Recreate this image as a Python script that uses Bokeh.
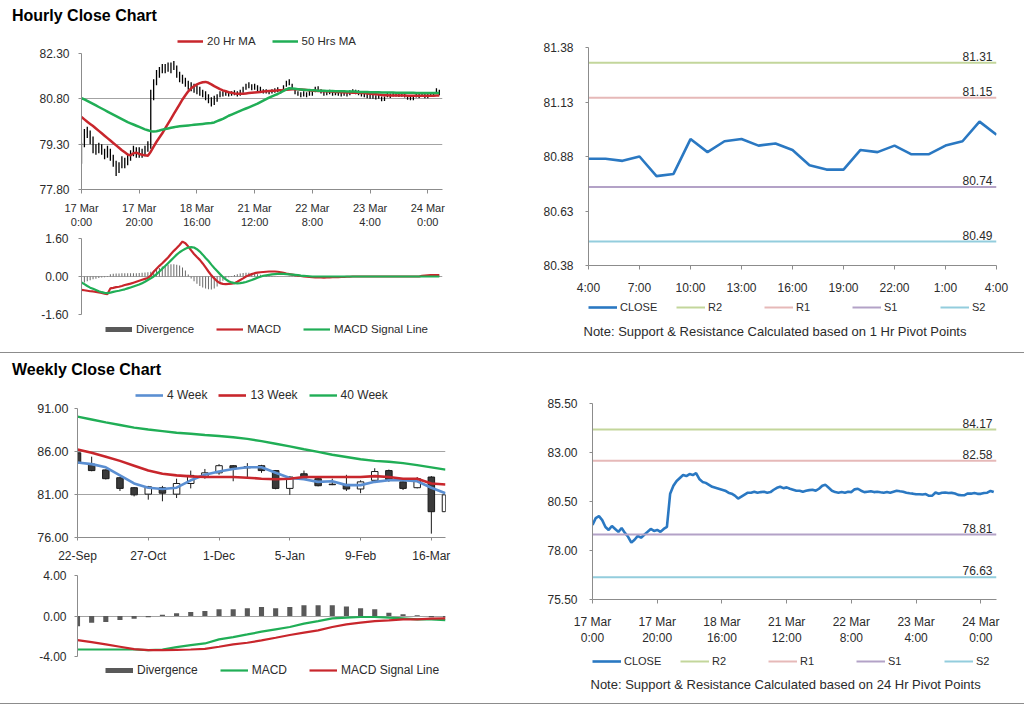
from bokeh.plotting import figure
from bokeh.models import Range1d, FixedTicker, NumeralTickFormatter, Legend, LegendItem, Title, Div
from bokeh.layouts import column, row
from bokeh.embed import file_html
from bokeh.resources import INLINE
from bokeh.core.properties import value

# ---------------- data ----------------
hourly_ticks = [0, 20, 40, 60, 80, 100, 120]
hourly_tick_labels = ["17 Mar\n0:00", "17 Mar\n20:00", "18 Mar\n16:00", "21 Mar\n12:00",
                      "22 Mar\n8:00", "23 Mar\n4:00", "24 Mar\n0:00"]

hourly_close = [79.30, 79.65, 79.75, 79.55, 79.20, 79.05, 79.25, 79.10, 78.95, 79.15,
                78.90, 78.70, 78.40, 78.55, 78.75, 78.65, 78.80, 78.95, 79.10, 79.00,
                79.05, 78.95, 79.10, 79.20, 80.90, 81.30, 81.55, 81.70, 81.85, 81.80,
                81.90, 81.85, 81.95, 81.65, 81.50, 81.45, 81.35, 81.25, 81.20, 81.15,
                81.10, 81.05, 80.95, 80.90, 80.80, 80.65, 80.75, 80.85, 80.95, 80.95,
                81.00, 80.95, 80.98, 81.00, 80.95, 80.98, 81.10, 81.20, 81.25, 81.18,
                81.22, 81.15, 81.10, 81.05, 81.05, 81.00, 81.05, 81.08, 81.10, 81.05,
                81.15, 81.30, 81.35, 81.20, 81.05, 80.98, 80.95, 80.98, 80.95, 81.00,
                80.98, 81.12, 81.15, 81.05, 80.98, 81.00, 81.02, 80.98, 81.00, 80.97,
                80.95, 80.98, 80.95, 81.00, 81.05, 81.02, 81.00, 80.95, 80.92, 80.90,
                80.87, 80.87, 80.86, 80.88, 80.79, 80.80, 80.96, 80.90, 80.95, 80.96,
                80.93, 80.94, 80.91, 80.84, 80.82, 80.82, 80.91, 80.90, 80.93, 80.89,
                80.89, 80.93, 80.95, 81.04, 80.98]

hourly_low = [78.65, 79.20, 79.50, 79.30, 79.00, 78.95, 79.00, 78.95, 78.80, 78.85,
              78.75, 78.55, 78.25, 78.35, 78.50, 78.50, 78.60, 78.75, 78.90, 78.85,
              78.85, 78.85, 78.90, 79.05, 79.15, 80.75, 81.25, 81.50, 81.65, 81.65,
              81.70, 81.65, 81.75, 81.50, 81.35, 81.30, 81.20, 81.10, 81.05, 81.00,
              80.95, 80.90, 80.85, 80.75, 80.65, 80.55, 80.60, 80.70, 80.85, 80.88,
              80.90, 80.88, 80.90, 80.92, 80.88, 80.90, 81.00, 81.10, 81.15, 81.08,
              81.10, 81.05, 81.00, 80.98, 80.98, 80.95, 80.98, 81.00, 81.02, 80.98,
              81.05, 81.20, 81.25, 81.10, 80.95, 80.90, 80.85, 80.88, 80.85, 80.90,
              80.90, 81.02, 81.05, 80.98, 80.90, 80.92, 80.95, 80.90, 80.92, 80.90,
              80.88, 80.90, 80.88, 80.92, 80.98, 80.95, 80.92, 80.88, 80.85, 80.82,
              80.80, 80.80, 80.78, 80.80, 80.72, 80.73, 80.85, 80.83, 80.88, 80.88,
              80.86, 80.87, 80.84, 80.77, 80.75, 80.75, 80.84, 80.83, 80.86, 80.82,
              80.82, 80.86, 80.88, 80.96, 80.92]

hourly_high = [79.35, 79.80, 79.88, 79.75, 79.55, 79.30, 79.35, 79.30, 79.15, 79.25,
               79.15, 78.95, 78.75, 78.70, 78.90, 78.85, 78.95, 79.10, 79.25, 79.20,
               79.20, 79.15, 79.25, 79.40, 81.10, 81.45, 81.75, 81.85, 81.95, 81.95,
               82.00, 82.00, 82.05, 81.90, 81.70, 81.60, 81.50, 81.40, 81.35, 81.30,
               81.25, 81.20, 81.10, 81.05, 80.95, 80.85, 80.90, 80.95, 81.05, 81.05,
               81.08, 81.05, 81.05, 81.08, 81.05, 81.10, 81.20, 81.30, 81.35, 81.28,
               81.30, 81.25, 81.20, 81.12, 81.12, 81.08, 81.12, 81.15, 81.18, 81.12,
               81.25, 81.40, 81.45, 81.30, 81.15, 81.05, 81.02, 81.05, 81.02, 81.08,
               81.05, 81.20, 81.22, 81.12, 81.05, 81.08, 81.10, 81.05, 81.08, 81.04,
               81.02, 81.05, 81.02, 81.08, 81.12, 81.10, 81.08, 81.02, 81.00, 80.98,
               80.95, 80.95, 80.92, 80.95, 80.88, 80.88, 81.02, 80.98, 81.02, 81.03,
               81.00, 81.01, 80.98, 80.92, 80.88, 80.89, 80.98, 80.97, 81.00, 80.96,
               80.96, 81.00, 81.03, 81.15, 81.10]

ma_20hr = [80.20, 80.12, 80.04, 79.97, 79.90, 79.82, 79.74, 79.66, 79.58, 79.50,
           79.42, 79.34, 79.26, 79.18, 79.10, 79.03, 78.96, 78.93, 79.00, 79.02,
           78.98, 78.95, 78.93, 78.92, 79.05, 79.22, 79.38, 79.52, 79.66, 79.82,
           79.98, 80.14, 80.30, 80.46, 80.62, 80.78, 80.92, 81.05, 81.15, 81.22,
           81.28, 81.32, 81.35, 81.36, 81.33, 81.28, 81.22, 81.17, 81.12, 81.08,
           81.05, 81.02, 81.00, 80.98, 80.97, 80.97, 80.97, 80.98, 80.99, 81.00,
           81.01, 81.02, 81.03, 81.04, 81.05, 81.06, 81.07, 81.07, 81.08, 81.08,
           81.09, 81.10, 81.11, 81.12, 81.12, 81.12, 81.11, 81.10, 81.09, 81.08,
           81.07, 81.07, 81.06, 81.06, 81.05, 81.05, 81.04, 81.04, 81.03, 81.03,
           81.02, 81.02, 81.01, 81.01, 81.00, 81.00, 81.00, 80.99, 80.99, 80.98,
           80.97, 80.96, 80.95, 80.94, 80.93, 80.92, 80.92, 80.91, 80.91, 80.91,
           80.91, 80.91, 80.91, 80.90, 80.90, 80.90, 80.90, 80.90, 80.90, 80.90,
           80.90, 80.90, 80.90, 80.91, 80.91]

ma_50hr = [80.82, 80.78, 80.73, 80.68, 80.63, 80.58, 80.53, 80.48, 80.43, 80.38,
           80.33, 80.28, 80.23, 80.18, 80.13, 80.08, 80.03, 79.99, 79.95, 79.91,
           79.87, 79.83, 79.79, 79.76, 79.73, 79.72, 79.73, 79.75, 79.78, 79.80,
           79.82, 79.84, 79.86, 79.88, 79.89, 79.90, 79.91, 79.92, 79.93, 79.94,
           79.95, 79.96, 79.97, 79.98, 79.99, 80.00, 80.02, 80.06, 80.10, 80.14,
           80.19, 80.24, 80.28, 80.32, 80.36, 80.40, 80.44, 80.48, 80.52, 80.56,
           80.60, 80.64, 80.69, 80.74, 80.79, 80.84, 80.88, 80.92, 80.96, 81.01,
           81.06, 81.11, 81.15, 81.14, 81.13, 81.12, 81.11, 81.10, 81.09, 81.09,
           81.08, 81.08, 81.07, 81.07, 81.07, 81.06, 81.06, 81.06, 81.05, 81.05,
           81.05, 81.05, 81.04, 81.04, 81.04, 81.04, 81.03, 81.03, 81.03, 81.03,
           81.02, 81.02, 81.02, 81.02, 81.01, 81.01, 81.01, 81.01, 81.01, 81.00,
           81.00, 81.00, 81.00, 81.00, 81.00, 81.00, 80.99, 80.99, 80.99, 80.99,
           80.99, 80.99, 80.99, 80.99, 80.99]

hourly_macd = [-0.56, -0.58, -0.60, -0.62, -0.63, -0.65, -0.67, -0.69, -0.72, -0.74,
               -0.50, -0.48, -0.45, -0.43, -0.40, -0.36, -0.33, -0.30, -0.26, -0.22,
               -0.18, -0.14, -0.10, -0.06, 0.04, 0.20, 0.33, 0.45, 0.56, 0.68,
               0.80, 0.95, 1.08, 1.20, 1.33, 1.47, 1.40, 1.26, 1.10, 0.95,
               0.82, 0.70, 0.55, 0.38, 0.21, 0.05, -0.08, -0.20, -0.28, -0.31,
               -0.32, -0.31, -0.30, -0.28, -0.22, -0.15, -0.08, 0.00, 0.05, 0.10,
               0.14, 0.16, 0.18, 0.19, 0.20, 0.21, 0.21, 0.21, 0.20, 0.18,
               0.15, 0.12, 0.10, 0.08, 0.06, 0.04, 0.02, 0.00, -0.01, -0.02,
               -0.03, -0.04, -0.04, -0.04, -0.05, -0.04, -0.04, -0.03, -0.03, -0.03,
               -0.02, -0.02, -0.01, -0.01, 0.00, 0.00, 0.00, 0.00, 0.00, 0.00,
               0.00, 0.00, 0.00, 0.00, 0.00, 0.00, 0.00, 0.00, 0.00, 0.00,
               0.00, 0.00, 0.00, 0.00, 0.00, 0.00, 0.00, 0.00, 0.03, 0.04,
               0.05, 0.06, 0.06, 0.06, 0.06]

hourly_signal = [-0.25, -0.32, -0.40, -0.47, -0.52, -0.57, -0.62, -0.66, -0.69, -0.70,
                 -0.68, -0.65, -0.62, -0.60, -0.57, -0.54, -0.50, -0.46, -0.42, -0.38,
                 -0.34, -0.28, -0.22, -0.15, -0.08, 0.00, 0.10, 0.21, 0.33, 0.44,
                 0.56, 0.68, 0.80, 0.92, 1.02, 1.10, 1.17, 1.22, 1.24, 1.22,
                 1.15, 1.05, 0.92, 0.78, 0.65, 0.50, 0.36, 0.23, 0.10, -0.02,
                 -0.12, -0.20, -0.25, -0.28, -0.29, -0.28, -0.26, -0.23, -0.19, -0.15,
                 -0.10, -0.05, -0.01, 0.03, 0.05, 0.07, 0.09, 0.10, 0.11, 0.11,
                 0.11, 0.10, 0.09, 0.08, 0.07, 0.06, 0.04, 0.03, 0.02, 0.01,
                 0.00, 0.00, 0.00, 0.00, 0.00, 0.00, 0.00, 0.00, 0.00, 0.00,
                 0.00, 0.00, 0.00, 0.00, 0.00, 0.00, 0.00, 0.00, 0.00, 0.00,
                 0.00, 0.00, 0.00, 0.00, 0.00, 0.00, 0.00, 0.00, 0.00, 0.00,
                 0.00, 0.00, 0.00, 0.00, 0.00, 0.00, 0.00, 0.00, 0.00, 0.00,
                 0.00, 0.00, 0.00, 0.00, 0.00]

hourly_divergence = [-0.30, -0.25, -0.20, -0.16, -0.12, -0.09, -0.06, -0.04, -0.03, -0.02,
                     0.10, 0.12, 0.13, 0.13, 0.14, 0.14, 0.14, 0.14, 0.14, 0.14,
                     0.15, 0.16, 0.17, 0.18, 0.20, 0.24, 0.30, 0.36, 0.42, 0.46,
                     0.50, 0.52, 0.52, 0.50, 0.46, 0.38, 0.25, 0.08, -0.08, -0.20,
                     -0.30, -0.40, -0.46, -0.50, -0.54, -0.55, -0.50, -0.42, -0.30, -0.18,
                     -0.08, -0.03, 0.02, 0.06, 0.10, 0.13, 0.15, 0.16, 0.16, 0.15,
                     0.13, 0.10, 0.07, 0.05, 0.03, 0.02, 0.02, 0.01, 0.01, 0.00,
                     0.00, 0.00, -0.01, -0.01, -0.02, -0.02, -0.02, -0.02, -0.02, -0.02,
                     -0.02, -0.02, -0.02, -0.01, -0.01, -0.01, -0.01, 0.00, 0.00, 0.00,
                     0.00, 0.00, 0.00, 0.00, 0.00, 0.00, 0.00, 0.00, 0.00, 0.00,
                     0.00, 0.00, 0.00, 0.00, 0.00, 0.00, 0.00, 0.00, 0.00, 0.00,
                     0.00, 0.00, 0.00, 0.00, 0.00, 0.00, 0.00, 0.00, 0.00, 0.00,
                     0.01, 0.02, 0.02, 0.02, 0.02]

# 1 Hr pivot window: last 25 hours (23 Mar 4:00 -> 24 Mar 4:00)
pivot_window_start = 100
hr_ticks = [0, 3, 6, 9, 12, 15, 18, 21, 24]
hr_tick_labels = ["4:00", "7:00", "10:00", "13:00", "16:00", "19:00", "22:00", "1:00", "4:00"]
level_names = ["R2", "R1", "S1", "S2"]
levels_1hr = [81.31, 81.15, 80.74, 80.49]
levels_24hr = [84.17, 82.58, 78.81, 76.63]

weekly_ticks = [0, 5, 10, 15, 20, 25]
weekly_tick_labels = ["22-Sep", "27-Oct", "1-Dec", "5-Jan", "9-Feb", "16-Mar"]
weekly_open = [85.85, 84.53, 83.86, 82.95, 81.79, 81.04, 81.79, 81.04, 82.28, 83.03,
               83.52, 84.35, 84.10, 84.35, 83.78, 81.71, 83.41, 82.84, 82.20, 82.17,
               81.64, 82.65, 83.78, 82.47, 81.79, 83.03, 79.00]
weekly_close = [84.65, 83.78, 82.84, 81.71, 80.96, 81.90, 81.15, 82.28, 83.22, 83.52,
                84.35, 84.05, 84.25, 83.78, 81.71, 83.03, 82.92, 82.02, 82.14, 81.64,
                82.47, 83.67, 82.73, 81.71, 82.84, 79.00, 80.96]
weekly_high = [86.04, 85.40, 83.90, 83.00, 81.85, 82.00, 82.00, 82.84, 83.78, 83.97,
               84.53, 84.42, 84.65, 84.45, 83.85, 83.14, 83.78, 83.03, 82.84, 83.29,
               82.65, 84.05, 83.90, 82.55, 83.03, 83.14, 80.96]
weekly_low = [84.55, 83.70, 82.75, 81.41, 80.78, 80.40, 80.21, 80.59, 81.71, 82.84,
              83.30, 82.54, 83.03, 83.52, 81.60, 80.96, 82.80, 81.95, 82.09, 81.41,
              81.15, 82.54, 82.47, 81.52, 81.71, 76.45, 79.00]
ma_4wk = [84.72, 84.53, 84.16, 83.22, 82.28, 81.79, 81.64, 81.79, 82.65, 83.29,
          83.67, 83.97, 84.16, 84.16, 83.52, 82.92, 82.77, 82.47, 82.54, 82.09,
          82.09, 82.47, 82.65, 82.65, 82.54, 81.79, 81.15]
ma_13wk = [86.23, 85.85, 85.40, 84.91, 84.35, 83.78, 83.41, 83.22, 83.11, 83.03,
           83.03, 83.03, 82.95, 82.84, 82.77, 82.84, 83.03, 83.03, 83.03, 83.03,
           83.03, 83.14, 83.03, 82.84, 82.84, 82.28, 82.17]
ma_40wk = [90.06, 89.72, 89.38, 89.08, 88.78, 88.56, 88.37, 88.18, 88.07, 87.92,
           87.80, 87.65, 87.47, 87.20, 86.90, 86.60, 86.26, 85.96, 85.62, 85.36,
           85.10, 84.91, 84.80, 84.65, 84.42, 84.16, 83.89]
weekly_divergence = [-1.00, -0.66, -0.60, -0.40, -0.26, -0.12, 0.12, 0.26, 0.40, 0.50,
                     0.66, 0.66, 0.76, 0.89, 0.76, 0.89, 1.06, 1.06, 1.06, 0.93,
                     0.76, 0.66, 0.33, 0.17, 0.07, -0.12, -0.15]
weekly_macd = [-3.31, -3.31, -3.31, -3.31, -3.31, -3.37, -3.31, -3.07, -2.88, -2.71,
               -2.31, -2.08, -1.82, -1.55, -1.32, -1.09, -0.76, -0.50, -0.23, -0.17,
               -0.10, -0.10, -0.17, -0.23, -0.33, -0.33, -0.40]
weekly_signal = [-2.38, -2.58, -2.81, -3.04, -3.27, -3.37, -3.37, -3.34, -3.31, -3.24,
                 -3.04, -2.81, -2.64, -2.41, -2.15, -1.88, -1.65, -1.42, -1.09, -0.83,
                 -0.66, -0.50, -0.43, -0.33, -0.33, -0.26, -0.23]

for arr in (hourly_close, hourly_low, hourly_high, ma_20hr, ma_50hr, hourly_macd,
            hourly_signal, hourly_divergence):
    assert len(arr) == 125, len(arr)

# ---------------- style ----------------
FONT = "Liberation Sans"
TXT = "#2b2b2b"
AX = "#8c8c8c"
GRID = "#a3a3a3"
RED = "#c8262c"
GREEN = "#20ae56"
BLUE_MA = "#5b8fd2"
CLOSE_C = "#2a78c2"
LEVEL_COLORS = ["#c3d69b", "#e6b9b8", "#b3a2c7", "#93cddd"]
DIV_H = "#6a6a6a"
DIV_W = "#595959"

hx = list(range(len(hourly_close)))
wx = list(range(len(weekly_close)))
px = list(range(len(hourly_close) - pivot_window_start))


def make_fig(w, h, bl, br, bt, bb, xr, yr, xaxis=True, yaxis=True):
    p = figure(width=w, height=h, x_range=xr, y_range=yr, output_backend="svg",
               toolbar_location=None, tools="", title=None,
               min_border_left=bl, min_border_right=br, min_border_top=bt, min_border_bottom=bb,
               x_axis_location="below" if xaxis else None,
               y_axis_location="left" if yaxis else None)
    p.outline_line_color = None
    p.xgrid.visible = False
    p.background_fill_color = "white"
    p.border_fill_color = "white"
    return p


def style_axis(ax, size, standoff, tick_out=4):
    ax.axis_line_color = AX
    ax.major_tick_line_color = AX
    ax.minor_tick_line_color = None
    ax.major_tick_out = tick_out
    ax.major_tick_in = 0
    ax.major_label_text_font = FONT
    ax.major_label_text_font_size = size
    ax.major_label_text_color = TXT
    ax.major_label_standoff = standoff


def y_setup(p, ticks, size, standoff, grid=True):
    p.yaxis.ticker = FixedTicker(ticks=ticks)
    p.yaxis.formatter = NumeralTickFormatter(format="0.00")
    style_axis(p.yaxis, size, standoff, tick_out=3)
    if grid:
        p.ygrid.grid_line_color = GRID
        p.ygrid.grid_line_width = 1
    else:
        p.ygrid.visible = False


def x_setup(p, ticks, labels, size, standoff, tick_out=4):
    p.xaxis.ticker = FixedTicker(ticks=ticks)
    p.xaxis.major_label_overrides = {t: l for t, l in zip(ticks, labels)}
    style_axis(p.xaxis, size, standoff, tick_out)


def legend_fig(w, h, bl, br, entries, loc, size, glyph_w, spacing, standoff=4, label_width=None,
               note=None, note_border=0, note_offset=0):
    """A strip carrying only a legend (and optionally the pivot note).
    Its series are drawn outside the strip's ranges, so only the legend shows."""
    lf = make_fig(w, h, bl, br, 0, note_border, Range1d(-1000, -999), Range1d(-1000, -999),
                  xaxis=False, yaxis=False)
    lf.ygrid.visible = False
    items = []
    for label, color, width, xs, ys in entries:
        r = lf.line(xs, ys, line_color=color, line_width=width)
        items.append(LegendItem(label=label, renderers=[r]))
    lg = Legend(items=items, orientation="horizontal", location=loc,
                label_text_font=FONT, label_text_font_size=size, label_text_color=TXT,
                glyph_width=glyph_w, glyph_height=12, label_height=12, label_standoff=standoff,
                spacing=spacing, padding=0, margin=0, border_line_color=None,
                background_fill_alpha=0)
    if label_width:
        lg.label_width = label_width
    lf.add_layout(lg, "center")
    if note:
        lf.add_layout(Title(text=note, align="left", text_font=FONT, text_font_size="13px",
                            text_font_style="normal", text_color=TXT, standoff=0,
                            offset=note_offset), "below")
    return lf


def pivot_chart(w, h, bl, br, bt, bb, xs, closes, xr, yr, yticks, levels, xticks, xlabels,
                x_standoff):
    p = make_fig(w, h, bl, br, bt, bb, xr, yr)
    y_setup(p, yticks, "12px", 12, grid=False)
    x_setup(p, xticks, xlabels, "12px", x_standoff)
    p.line(xs, closes, line_color=CLOSE_C, line_width=2.6)
    for lvl, c in zip(levels, LEVEL_COLORS):
        p.line([xr.start, xr.end], [lvl, lvl], line_color=c, line_width=2)
    p.text(x=[xr.end] * len(levels), y=levels, text=[f"{v:.2f}" for v in levels],
           text_align="right", text_baseline="bottom", x_offset=-4, y_offset=-2,
           text_font=value(FONT), text_font_size="12px", text_color=TXT)
    return p


def pivot_entries(xs, closes, levels):
    return [("CLOSE", CLOSE_C, 2.6, xs, closes)] + [
        (n, c, 2, [xs[0], xs[-1]], [lvl, lvl]) for n, c, lvl in zip(level_names, LEVEL_COLORS, levels)]


# ---------------- hourly price (top-left) ----------------
hp_leg = legend_fig(520, 18, 81, 78, [("20 Hr MA", RED, 2.5, hx, ma_20hr),
                                      ("50 Hrs MA", GREEN, 2.5, hx, ma_50hr)],
                    (96, 1), "11.5px", 26, 16)
hp = make_fig(520, 183, 81, 78, 5, 42, Range1d(0, 125.1), Range1d(77.8, 82.3))
y_setup(hp, [77.8, 79.3, 80.8, 82.3], "12px", 9)
x_setup(hp, hourly_ticks, hourly_tick_labels, "11px", 8)
hp.segment(x0=hx, y0=hourly_low, x1=hx, y1=hourly_high, line_color="black", line_width=1.3)
hp.line(hx, ma_20hr, line_color=RED, line_width=2.5)
hp.line(hx, ma_50hr, line_color=GREEN, line_width=2.5)

# ---------------- hourly MACD ----------------
hm = make_fig(520, 90, 81, 78, 7, 7, Range1d(0, 125.1), Range1d(-1.6, 1.6), xaxis=False)
y_setup(hm, [-1.6, 0.0, 1.6], "12px", 10)
hm.vbar(x=hx, top=hourly_divergence, bottom=0, width=0.35, fill_color=DIV_H, line_color=None)
hm.line(hx, hourly_macd, line_color=RED, line_width=2.2)
hm.line(hx, hourly_signal, line_color=GREEN, line_width=2.2)
hm_leg = legend_fig(520, 24, 81, 78, [("Divergence", "#595959", 5, hx, hourly_divergence),
                                      ("MACD", RED, 2.2, hx, hourly_macd),
                                      ("MACD Signal Line", GREEN, 2.2, hx, hourly_signal)],
                    (24, 10), "11.5px", 27, 22)

# ---------------- 1 hr pivot (top-right) ----------------
hr = pivot_chart(504, 268, 68, 28, 17, 33, px, hourly_close[pivot_window_start:],
                 Range1d(0, 24), Range1d(80.38, 81.38), [80.38, 80.63, 80.88, 81.13, 81.38],
                 levels_1hr, hr_ticks, hr_tick_labels, 11)
hr_leg = legend_fig(504, 47, 68, 28, pivot_entries(px, hourly_close[pivot_window_start:], levels_1hr),
                    (0, 8), "11px", 29, 6, standoff=3, label_width=50,
                    note="Note: Support & Resistance Calculated based on 1 Hr Pivot Points",
                    note_border=24, note_offset=-5)

# ---------------- weekly price ----------------
wp_leg = legend_fig(520, 21, 77, 75, [("4 Week", BLUE_MA, 2.6, wx, ma_4wk),
                                      ("13 Week", RED, 2.6, wx, ma_13wk),
                                      ("40 Week", GREEN, 2.4, wx, ma_40wk)],
                    (58, 1), "12px", 28, 11)
wp = make_fig(520, 162, 77, 75, 5, 24, Range1d(0, 26), Range1d(76, 91))
y_setup(wp, [76, 81, 86, 91], "12.5px", 6)
x_setup(wp, weekly_ticks, weekly_tick_labels, "12px", 8, tick_out=3)
wp.segment(x0=wx, y0=weekly_low, x1=wx, y1=weekly_high, line_color="#1a1a1a", line_width=1)
body_top = [max(o, c) for o, c in zip(weekly_open, weekly_close)]
body_bot = [min(o, c) for o, c in zip(weekly_open, weekly_close)]
body_col = ["#3a3a3a" if c < o else "white" for o, c in zip(weekly_open, weekly_close)]
wp.vbar(x=wx, top=body_top, bottom=body_bot, width=0.46, fill_color=body_col,
        line_color="#1a1a1a", line_width=1)
wp.line(wx, ma_4wk, line_color=BLUE_MA, line_width=2.6)
wp.line(wx, ma_13wk, line_color=RED, line_width=2.6)
wp.line(wx, ma_40wk, line_color=GREEN, line_width=2.4)

# ---------------- weekly MACD ----------------
wm = make_fig(520, 98, 77, 75, 10, 7, Range1d(0, 26), Range1d(-4, 4), xaxis=False)
y_setup(wm, [-4, 0, 4], "12px", 8)
wm.vbar(x=wx, top=weekly_divergence, bottom=0, width=0.36, fill_color=DIV_W, line_color=None)
wm.line(wx, weekly_macd, line_color=GREEN, line_width=2.2)
wm.line(wx, weekly_signal, line_color=RED, line_width=2.2)
wm_leg = legend_fig(520, 29, 77, 75, [("Divergence", DIV_W, 5, wx, weekly_divergence),
                                      ("MACD", GREEN, 2.2, wx, weekly_macd),
                                      ("MACD Signal Line", RED, 2.2, wx, weekly_signal)],
                    (28, 15), "12px", 28, 22)

# ---------------- 24 hr pivot (bottom-right) ----------------
wr = pivot_chart(504, 266, 72, 28, 21, 47, hx, hourly_close, Range1d(0, 124.85),
                 Range1d(75.5, 85.5), [75.5, 78.0, 80.5, 83.0, 85.5], levels_24hr,
                 hourly_ticks, hourly_tick_labels, 11)
wr_leg = legend_fig(504, 44, 72, 28, pivot_entries(hx, hourly_close, levels_24hr),
                    (0, 7), "11px", 29, 6, standoff=3, label_width=50,
                    note="Note: Support & Resistance Calculated based on 24 Hr Pivot Points",
                    note_border=18, note_offset=-2)


def title_div(text, h, pad_top):
    return Div(text=f'<div style="font-family:\'Liberation Sans\',Arial,sans-serif;font-weight:bold;'
                    f'font-size:16px;line-height:18px;padding-left:12px;padding-top:{pad_top}px;'
                    f'color:#000;white-space:nowrap">{text}</div>',
               width=1024, height=h, margin=(0, 0, 0, 0))


def sep_div(gap, h):
    return Div(text="", width=1024, height=h, margin=(gap, 0, 0, 0),
               styles={"border-top": "1px solid #8c8c8c", "box-sizing": "border-box"})


layout = column(
    title_div("Hourly Close Chart", 30, 7),
    row(column(hp_leg, hp, hm, hm_leg), column(hr, hr_leg)),
    sep_div(7, 8),
    title_div("Weekly Close Chart", 22, 1),
    row(column(wp_leg, wp, wm, wm_leg), column(wr, wr_leg)),
    sep_div(11, 2),
)

open("out.html", "w").write(file_html(layout, INLINE, title="Close Charts"))
